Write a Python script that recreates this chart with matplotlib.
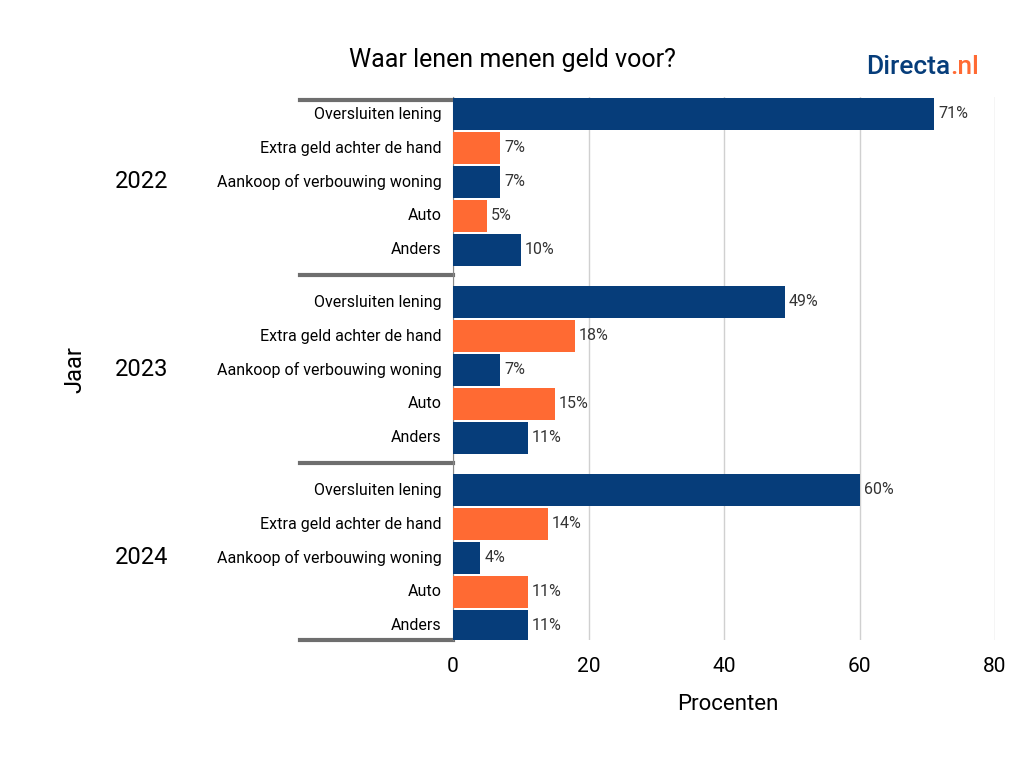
import numpy as np
import matplotlib.pyplot as plt
from matplotlib.transforms import blended_transform_factory

plt.rcParams["font.family"] = "Roboto"

years = ["2022", "2023", "2024"]
categories = ["Oversluiten lening", "Extra geld achter de hand", "Aankoop of verbouwing woning",
              "Auto", "Anders"]
values = {
    "2022": [71, 7, 7, 5, 10],
    "2023": [49, 18, 7, 15, 11],
    "2024": [60, 14, 4, 11, 11],
}

navy = "#063d7a"
orange = "#ff6a33"
colors = [navy, orange, navy, orange, navy]

fig = plt.figure(figsize=(10.24, 7.68), dpi=100)
ax = fig.add_axes([453 / 1024, 1 - 640 / 768, 542 / 1024, 543 / 768])

row = 34
gap = 188
for g, yr in enumerate(years):
    for i, (cat, v) in enumerate(zip(categories, values[yr])):
        y = 114 + g * gap + i * row
        ax.barh(y, v, height=32, color=colors[i], zorder=3)
        ax.text(v + 0.6, y, f"{v}%", va="center", ha="left", fontsize=11.5, color="#333333")
        ax.text(-1.7, y, cat, va="center", ha="right", fontsize=11.5)
    ax.text(-46, 114 + g * gap + 2 * row, yr, va="center", ha="center", fontsize=17)

ax.set_ylim(640, 97)
ax.set_xlim(0, 80)
ax.set_yticks([])
ax.set_xticks([0, 20, 40, 60, 80])
ax.tick_params(axis="x", length=0, labelsize=15, pad=12)
ax.grid(axis="x", color="#d0d0d0", lw=1, zorder=0)
for s in ["top", "right", "bottom"]:
    ax.spines[s].set_visible(False)
ax.spines["left"].set_color("#888888")

tr = blended_transform_factory(ax.transAxes, ax.transData)
for ysep in [100, 275, 463, 640]:
    ax.plot([-0.282, 0], [ysep, ysep], transform=tr, color="#6e6e6e", lw=3, clip_on=False)

fig.text(512 / 1024, 1 - 60 / 768, "Waar lenen menen geld voor?", ha="center", va="center", fontsize=18)
fig.text(728 / 1024, 1 - 705 / 768, "Procenten", ha="center", va="center", fontsize=16)
fig.text(75 / 1024, 1 - 370 / 768, "Jaar", ha="center", va="center", fontsize=17, rotation=90)
t = fig.text(866 / 1024, 1 - 67 / 768, "Directa", ha="left", va="center", fontsize=19,
             color=navy, fontweight="medium")
fig.canvas.draw()
bb = t.get_window_extent()
fig.text(bb.x1 / 1024, 1 - 67 / 768, ".nl", ha="left", va="center", fontsize=19,
         color=orange, fontweight="medium")

fig.savefig("out.png", dpi=100)
